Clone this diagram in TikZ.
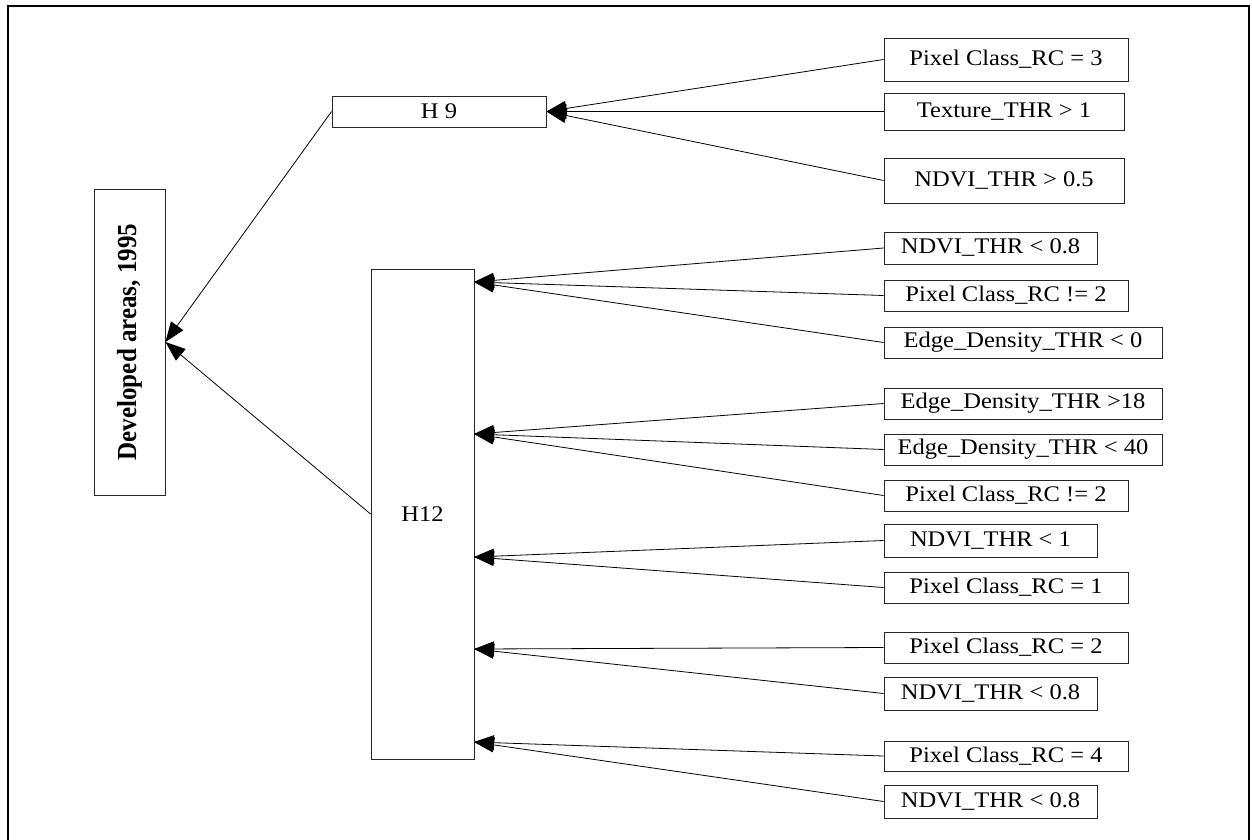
\documentclass[tikz,border=0pt]{standalone}
\usepackage{fontspec}
\setmainfont{Liberation Serif}[FakeStretch=1.1]
\newfontfamily\rotfont{Liberation Serif}[FakeStretch=0.91]
\usetikzlibrary{arrows.meta}
\tikzset{
  box/.style={draw=black!85, line width=0.9pt, inner sep=0pt, fill=white,
    font=\fontsize{22.3}{26}\selectfont},
  arr/.style={draw=black, line width=0.8pt, -{Triangle[length=20pt,width=15pt]}},
}
\begin{document}
\begin{tikzpicture}[x=1pt,y=-1pt]
\useasboundingbox (0,0) rectangle (1252,840);
\draw[line width=2pt] (7.5,841) -- (7.5,6.5) -- (1249,6.5) -- (1249,841);

\node[box, minimum width=71pt, minimum height=306pt] (dev) at (129.5,342)
  {\rotatebox{90}{\rotfont\bfseries\fontsize{27.5}{30}\selectfont Developed areas, 1995}};
\node[box, minimum width=214pt, minimum height=31pt] (h9) at (439,111.5) {H 9};
\node[box, minimum width=103pt, minimum height=490pt] (h12) at (422.5,514) {H12};

\node[box, minimum width=244pt, minimum height=43pt] (r1) at (1006,59.5) {Pixel Class\_RC = 3};
\node[box, minimum width=240pt, minimum height=37pt] (r2) at (1004,111.5) {Texture\_THR > 1};
\node[box, minimum width=240pt, minimum height=45pt] (r3) at (1004,180.5) {NDVI\_THR > 0.5};
\node[box, minimum width=213pt, minimum height=32pt] (r4) at (990.5,248) {NDVI\_THR < 0.8};
\node[box, minimum width=244pt, minimum height=31pt] (r5) at (1006,295.5) {Pixel Class\_RC != 2};
\node[box, minimum width=278pt, minimum height=31pt] (r6) at (1023,342.5) {Edge\_Density\_THR < 0};
\node[box, minimum width=278pt, minimum height=31pt] (r7) at (1023,403.5) {Edge\_Density\_THR >18};
\node[box, minimum width=278pt, minimum height=31pt] (r8) at (1023,449.5) {Edge\_Density\_THR < 40};
\node[box, minimum width=244pt, minimum height=31pt] (r9) at (1006,495.5) {Pixel Class\_RC != 2};
\node[box, minimum width=213pt, minimum height=33pt] (r10) at (990.5,540.5) {NDVI\_THR < 1};
\node[box, minimum width=244pt, minimum height=31pt] (r11) at (1006,587.5) {Pixel Class\_RC = 1};
\node[box, minimum width=244pt, minimum height=31pt] (r12) at (1006,647.5) {Pixel Class\_RC = 2};
\node[box, minimum width=213pt, minimum height=33pt] (r13) at (990.5,693.5) {NDVI\_THR < 0.8};
\node[box, minimum width=244pt, minimum height=30pt] (r14) at (1006,756) {Pixel Class\_RC = 4};
\node[box, minimum width=213pt, minimum height=33pt] (r15) at (990.5,801.5) {NDVI\_THR < 0.8};

\coordinate (p1) at (474,282);
\coordinate (p2) at (474,434);
\coordinate (p3) at (474,557);
\coordinate (p4) at (474,649);
\coordinate (p5) at (474,742);

\foreach \r in {r1,r2,r3} \draw[arr] (\r.west) -- (h9.east);
\foreach \r in {r4,r5,r6} \draw[arr] (\r.west) -- (p1);
\foreach \r in {r7,r8,r9} \draw[arr] (\r.west) -- (p2);
\foreach \r in {r10,r11} \draw[arr] (\r.west) -- (p3);
\foreach \r in {r12,r13} \draw[arr] (\r.west) -- (p4);
\foreach \r in {r14,r15} \draw[arr] (\r.west) -- (p5);

\draw[arr] (h9.west) -- (dev.east);
\draw[arr] (h12.west) -- (dev.east);
\end{tikzpicture}
\end{document}
